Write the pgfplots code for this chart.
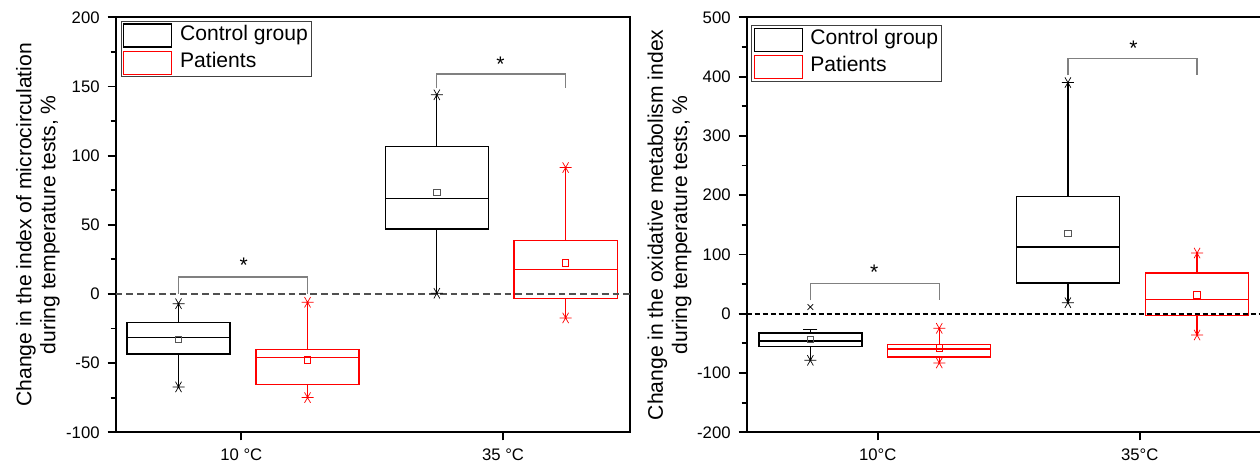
\documentclass[border=0pt]{standalone}
\usepackage{fontspec}
\setmainfont{Liberation Sans}
\usepackage{pgfplots}
\pgfplotsset{compat=1.18}
\usepgfplotslibrary{statistics}

\definecolor{brk}{HTML}{808080}
\definecolor{zl}{HTML}{505050}
\definecolor{mgray}{HTML}{555555}

\newcommand{\lblfont}{\fontsize{10.55}{12.05}\selectfont}
\newcommand{\tckfont}{\fontsize{8.35}{10}\selectfont}

\pgfplotsset{
  panel/.style={
    scale only axis, height=207.5pt,
    axis line style={line width=0.9pt},
    tick align=outside, xtick pos=bottom, ytick pos=left,
    major tick length=4pt, minor tick length=2.5pt,
    tick style={line width=0.9pt, black},
    minor y tick num=1,
    xtick={1,2},
    /pgf/number format/assume math mode=true,
    ticklabel style={font=\tckfont},
    yticklabel style={inner sep=0pt, xshift=-3.85pt},
    xticklabel style={inner sep=0pt, yshift=-4.1pt},
    ylabel style={font=\lblfont, align=center, inner sep=0pt, anchor=south},
    boxplot/draw direction=y,
    legend style={anchor=north west, draw=black!75, line width=0.5pt,
      inner sep=1pt, row sep=1.5pt, font=\lblfont,
      nodes={inner sep=0.6pt},
      /tikz/every odd column/.append style={column sep=3.2pt}},
    legend cell align=left,
    legend image code/.code={\draw[##1] (0pt,-6.4pt) rectangle (24pt,5.1pt);},
  },
  cbox/.style={black, line width=0.65pt, forget plot},
  pbox/.style={red, line width=0.65pt, forget plot},
  ends/.style={only marks, mark=asterisk, mark size=3pt, forget plot,
    mark options={rotate=90, line width=0.35pt}},
  means/.style={only marks, mark=square, mark size=1.6pt, forget plot,
    mark options={line width=0.4pt}},
  bracket/.style={brk, line width=0.6pt, forget plot},
}

\begin{document}
\begin{tikzpicture}
\path[use as bounding box] (0pt,0pt) rectangle (630pt,231.5pt);

% ---------- left panel ----------
\begin{axis}[panel, at={(57.85pt,15.35pt)}, anchor=south west,
  width=257.15pt, xmin=0.52, xmax=2.485, ymin=-100, ymax=200,
  ytick={-100,-50,...,200}, xticklabels={10 °C,35 °C},
  ylabel={Change in the index of microcirculation\\during temperature tests, \%},
  ylabel style={at={(axis description cs:-0.1079,0.5)}},
  legend style={at={(axis description cs:0,1)}, xshift=2.5pt, yshift=-1.7pt}]
\addlegendimage{black, line width=0.65pt}
\addlegendentry{Control group}
\addlegendimage{red, line width=0.65pt}
\addlegendentry{Patients}

\addplot[cbox, boxplot prepared={draw position=0.76, box extend=0.394, whisker extend=0,
  lower whisker=-67.2, lower quartile=-43.4, median=-31.3, upper quartile=-20.5, upper whisker=-7}] coordinates {};
\addplot[pbox, boxplot prepared={draw position=1.253, box extend=0.394, whisker extend=0,
  lower whisker=-74.9, lower quartile=-65.3, median=-46, upper quartile=-40.2, upper whisker=-6}] coordinates {};
\addplot[cbox, boxplot prepared={draw position=1.747, box extend=0.394, whisker extend=0,
  lower whisker=0.5, lower quartile=47, median=69.2, upper quartile=106.6, upper whisker=144}] coordinates {};
\addplot[pbox, boxplot prepared={draw position=2.239, box extend=0.394, whisker extend=0,
  lower whisker=-17.3, lower quartile=-3.1, median=17.9, upper quartile=38.8, upper whisker=91.4}] coordinates {};

\addplot[ends, black] coordinates {(0.76,-67.2)(0.76,-7)(1.747,0.5)(1.747,144)};
\addplot[ends, red] coordinates {(1.253,-74.9)(1.253,-6)(2.239,-17.3)(2.239,91.4)};
\addplot[means, mgray] coordinates {(0.76,-33)(1.747,73.3)};
\addplot[means, red] coordinates {(1.253,-47.7)(2.239,22.4)};

\addplot[zl, line width=1pt, dash pattern=on 3.4pt off 2pt, forget plot] coordinates {(0.52,0)(2.485,0)};

\addplot[bracket] coordinates {(0.76,0)(0.76,12.3)(1.253,12.3)(1.253,0)};
\addplot[bracket] coordinates {(1.747,148.7)(1.747,159)(2.239,159)(2.239,148.7)};
\node[font=\lblfont, inner sep=0pt, anchor=base, yshift=-6.1pt] at (axis cs:1.009,24) {*};
\node[font=\lblfont, inner sep=0pt, anchor=base, yshift=-6.1pt] at (axis cs:1.99,170) {*};
\end{axis}

% ---------- right panel ----------
\begin{axis}[panel, at={(373.35pt,15.35pt)}, anchor=south west,
  width=262pt, xmin=0.5, xmax=2.5, ymin=-200, ymax=500,
  ytick={-200,-100,...,500}, xticklabels={10°C,35°C},
  ylabel={Change in the oxidative metabolism index\\during temperature tests, \%},
  ylabel style={at={(axis description cs:-0.1048,0.5)}},
  legend style={at={(axis description cs:0,1)}, xshift=2.15pt, yshift=-3.85pt}]
\addlegendimage{black, line width=0.65pt}
\addlegendentry{Control group}
\addlegendimage{red, line width=0.65pt}
\addlegendentry{Patients}

\addplot[cbox, boxplot prepared={draw position=0.743, box extend=0.393, whisker extend=0,
  lower whisker=-78.6, lower quartile=-55.5, median=-46, upper quartile=-32.5, upper whisker=-26.8}] coordinates {};
\addplot[pbox, boxplot prepared={draw position=1.235, box extend=0.393, whisker extend=0,
  lower whisker=-83, lower quartile=-73, median=-59.5, upper quartile=-52.1, upper whisker=-24.6}] coordinates {};
\addplot[cbox, boxplot prepared={draw position=1.726, box extend=0.393, whisker extend=0,
  lower whisker=18.7, lower quartile=51.8, median=112.5, upper quartile=198, upper whisker=390}] coordinates {};
\addplot[pbox, boxplot prepared={draw position=2.219, box extend=0.393, whisker extend=0,
  lower whisker=-35.9, lower quartile=-2.7, median=24.3, upper quartile=68.6, upper whisker=102.4}] coordinates {};

\addplot[ends, black] coordinates {(0.743,-78.6)(1.726,18.7)(1.726,390)};
\addplot[only marks, black, mark=-, mark size=3.5pt, mark options={line width=0.65pt}, forget plot] coordinates {(0.743,-26.8)};
\addplot[only marks, black, mark=x, mark size=2pt, mark options={line width=0.4pt}, forget plot] coordinates {(0.743,11.3)};
\addplot[ends, red] coordinates {(1.235,-83)(1.235,-24.6)(2.219,-35.9)(2.219,102.4)};
\addplot[means, mgray] coordinates {(0.743,-43.7)(1.726,136)};
\addplot[means, red] coordinates {(1.235,-57.8)(2.219,31.5)};

\addplot[black, line width=0.8pt, dash pattern=on 2.4pt off 1.6pt, forget plot] coordinates {(0.5,0)(2.5,0)};

\addplot[bracket] coordinates {(0.743,22.6)(0.743,50.8)(1.235,50.8)(1.235,22.6)};
\addplot[bracket] coordinates {(1.726,402)(1.726,430.7)(2.219,430.7)(2.219,402)};
\node[font=\lblfont, inner sep=0pt, anchor=base, yshift=-6.1pt] at (axis cs:0.987,78.8) {*};
\node[font=\lblfont, inner sep=0pt, anchor=base, yshift=-6.1pt] at (axis cs:1.976,457) {*};
\end{axis}
\end{tikzpicture}
\end{document}
